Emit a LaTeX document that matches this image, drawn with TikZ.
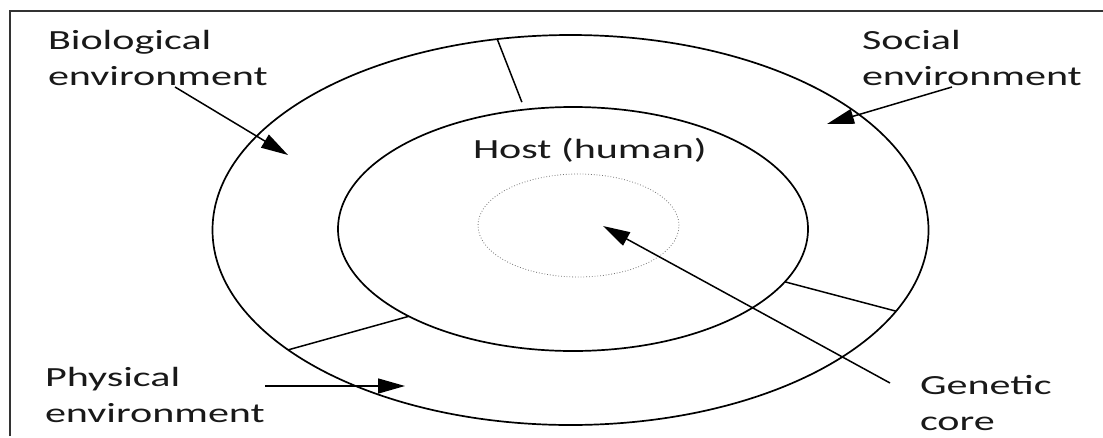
\documentclass[tikz,border=0pt]{standalone}
\usepackage{fontspec}
\usetikzlibrary{shapes.geometric,arrows.meta,calc}
\newfontfamily\labelfont{Carlito}[FakeStretch=1.52]
\begin{document}
\begin{tikzpicture}[x=1pt,y=-1pt,
  ring/.style={draw=black, line width=1.7pt, ellipse, inner sep=0pt, outer sep=0pt},
  corering/.style={draw=black!55, line width=0.8pt, dotted, ellipse, inner sep=0pt, outer sep=0pt},
  divider/.style={draw=black, line width=1.5pt},
  pointer/.style={draw=black, line width=1.5pt, -{Triangle[length=27pt,width=15pt]}},
  lbl/.style={font=\labelfont\fontsize{27.7}{36}\selectfont, text=black!90, inner sep=0pt, outer sep=0pt, align=left, anchor=base west}]
\useasboundingbox (0,0) rectangle (1103,437);
% frame (cut at the right and bottom)
\draw[black!80, line width=2.4pt] (10,436) -- (10,11) -- (1104,11);

% environment rings and genetic core
\node[ring, minimum width=716pt, minimum height=390pt] (outer) at (570.5,230) {};
\node[ring, minimum width=470pt, minimum height=244pt] (inner) at (573,229) {};
\node[corering, minimum width=201pt, minimum height=103pt] (core) at (578.5,225.5) {};

% dividers between the three environment sectors
\draw[divider, shorten >=8pt] (outer.111) -- (inner.112);
\draw[divider] (outer.203.5) -- (inner.208.3);
\draw[divider] (inner.346) -- (outer.346.5);

% labels (base anchor sits on the last line)
\node[lbl] (host) at (473,158) {Host (human)};
\node[lbl] (bio) at (48,85) {Biological\\environment};
\node[lbl] (soc) at (862,85) {Social\\environment};
\node[lbl] (phys) at (45,422) {Physical\\environment};
\node[lbl] (gen) at (920,430) {Genetic\\core};

% pointer ends
\coordinate (bioTail) at (175,87);
\coordinate (bioTip) at (288,155);
\coordinate (socTail) at (952,87);
\coordinate (socTip) at (827,124);
\coordinate (physTail) at (265,386);
\coordinate (physTip) at (405,386);
\coordinate (genTail) at (890,383);
\coordinate (genTip) at (603,226);

\draw[pointer] (bioTail) -- (bioTip);
\draw[pointer] (socTail) -- (socTip);
\draw[pointer] (physTail) -- (physTip);
\draw[pointer] (genTail) -- (genTip);
\end{tikzpicture}
\end{document}
